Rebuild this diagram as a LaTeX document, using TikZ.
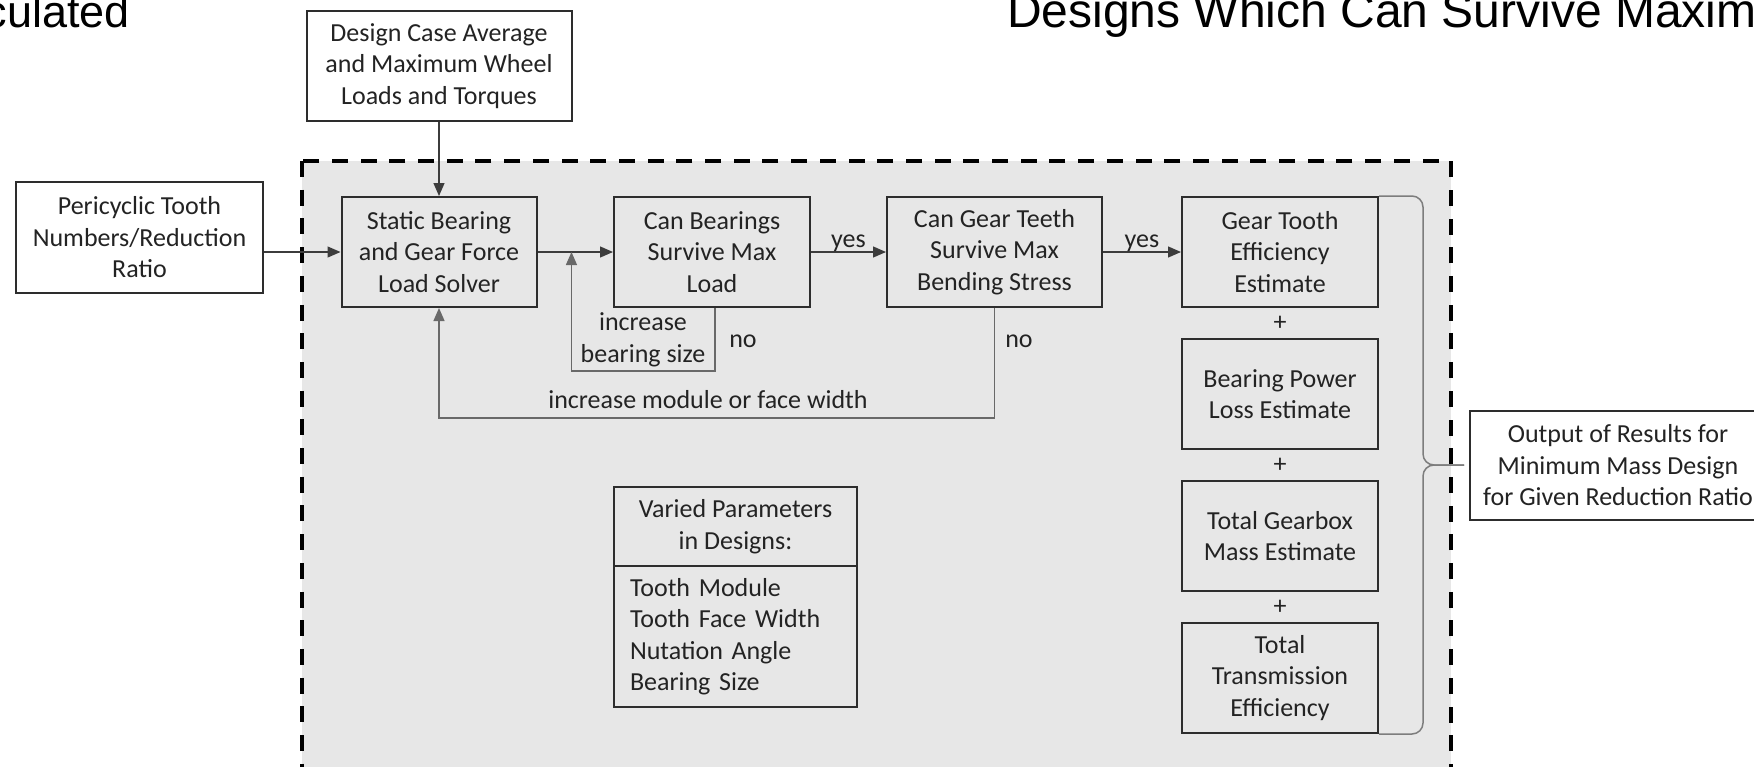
\documentclass[tikz,border=0pt]{standalone}
\usepackage{fontspec}
\setmainfont{Carlito}
\newfontfamily\headfont{Liberation Sans}
\usepackage{xcolor}
\usetikzlibrary{arrows.meta, positioning, calc}

\definecolor{zonegray}{RGB}{231,231,231}
\definecolor{edgegray}{RGB}{45,45,45}
\definecolor{inkgray}{RGB}{35,35,35}
\definecolor{wiregray}{RGB}{60,60,60}
\definecolor{loopgray}{RGB}{105,105,105}
\definecolor{bracegray}{RGB}{125,125,125}

\begin{document}
\begin{tikzpicture}[
    x=1pt, y=-1pt,
    every node/.style={font=\fontsize{26}{31.5}\selectfont, text=inkgray},
    block/.style={draw=edgegray, line width=2pt, align=center, inner sep=0pt,
      minimum height=110pt},
    wire/.style={draw=wiregray, line width=1.3pt},
    arrow/.style={wire, -{Triangle[length=13pt, width=11pt]}},
    tag/.style={inner sep=0pt},
    heading/.style={tag, text=black},
    brace/.style={draw=bracegray, line width=1.5pt, rounded corners=11pt},
  ]
    \def\bw{196}      % width of the step blocks
    \def\gap{30}      % vertical gap in the right column

    % page frame
    \path[use as bounding box, clip] (0, 0) rectangle (1754, 766);

    % slide title, cut by the frame
    \node[heading, font=\headfont\fontsize{45}{54}\selectfont, anchor=base east] (titleleft) at (130, 27) {culated};
    \node[heading, font=\headfont\fontsize{48}{56}\selectfont, anchor=base west] (titleright) at (1007, 27) {Designs Which Can Survive Maxim};

    % dashed region of the design loop
    \draw[fill=zonegray, line width=4pt, dash pattern=on 16pt off 12.7pt] (302, 161) rectangle (1451, 800);

    % inputs
    \node[block, fill=white, minimum width=265pt] (cases) at (439, 66)
      {Design Case Average\\and Maximum Wheel\\Loads and Torques};
    \node[block, fill=white, minimum width=247pt, minimum height=111pt] (ratio) at (139.5, 237.5)
      {Pericyclic Tooth\\Numbers/Reduction\\Ratio};

    % sizing steps
    \node[block, minimum width=195pt] (solver) at (439, 252)
      {Static Bearing\\and Gear Force\\Load Solver};
    \node[block, minimum width=\bw pt] (bearchk) at (712, 252)
      {Can Bearings\\Survive Max\\Load};
    \node[block, minimum width=215pt] (gearchk) at (994.5, 252)
      {Can Gear Teeth\\Survive Max\\Bending Stress};

    % estimates, stacked
    \node[block, minimum width=\bw pt] (toothEff) at (1280, 252)
      {Gear Tooth\\Efficiency\\Estimate};
    \node[block, minimum width=\bw pt, below=\gap pt of toothEff] (bearLoss)
      {Bearing Power\\Loss Estimate};
    \node[block, minimum width=\bw pt, below=\gap pt of bearLoss] (gearMass)
      {Total Gearbox\\Mass Estimate};
    \node[block, minimum width=\bw pt, below=\gap pt of gearMass] (totalEff)
      {Total\\Transmission\\Efficiency};
    \node[tag] (plusA) at ($(toothEff.south)!0.5!(bearLoss.north)$) {+};
    \node[tag] (plusB) at ($(bearLoss.south)!0.5!(gearMass.north)$) {+};
    \node[tag] (plusC) at ($(gearMass.south)!0.5!(totalEff.north)$) {+};

    % varied parameters
    \node[block, minimum width=243pt, minimum height=79pt] (varhead) at (735.5, 526.5)
      {Varied Parameters\\in Designs:};
    \node[block, minimum width=243pt, minimum height=141pt, align=left, text width=211pt] (varlist) at (735.5, 636.5)
      {Tooth Module\\Tooth Face Width\\Nutation Angle\\Bearing Size};

    % result
    \node[block, fill=white, minimum width=296pt, minimum height=109pt] (output) at (1618, 465.5)
      {Output of Results for\\Minimum Mass Design\\for Given Reduction Ratio};

    % forward arrows
    \draw[arrow] (cases) -- (solver);
    \draw[arrow] (ratio.east |- solver.west) -- (solver.west);
    \draw[arrow] (solver) -- (bearchk);
    \draw[arrow] (bearchk) -- node[tag, above] (yesA) {yes} (gearchk);
    \draw[arrow] (gearchk) -- node[tag, above] (yesB) {yes} (toothEff);

    % feedback loops
    \coordinate (rejoin) at ($(solver.east)!0.45!(bearchk.west)$);
    \draw[arrow, draw=loopgray] ([xshift=3pt]bearchk.south) -- ++(0, 63) -| (rejoin);
    \draw[arrow, draw=loopgray] (gearchk.south) -- ++(0, 110) -| (solver.south);
    \node[tag, align=center] (bearfix) at (643, 340) {increase\\bearing size};
    \node[tag] (noA) at (743, 341) {no};
    \node[tag] (noB) at (1019, 341) {no};
    \node[tag] (gearfix) at (708, 400) {increase module or face width};

    % brace to the output
    \coordinate (bracemid) at ($(toothEff.north east)!0.5!(totalEff.south east)$);
    \coordinate (bracetip) at ([xshift=-5pt]bracemid -| output.west);
    \draw[brace] (toothEff.north east) -| ([xshift=44pt]bracemid) -- (bracetip);
    \draw[brace] (totalEff.south east) -| ([xshift=44pt]bracemid) -- (bracetip);
  \end{tikzpicture}
\end{document}
